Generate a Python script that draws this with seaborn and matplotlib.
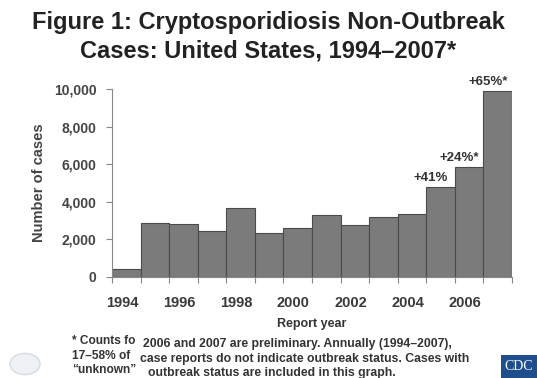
import matplotlib
matplotlib.use("Agg")
import matplotlib.pyplot as plt
import seaborn as sns
import pandas as pd
from matplotlib.ticker import FuncFormatter, FixedLocator
from matplotlib.patches import Rectangle, Circle

years = [1994, 1995, 1996, 1997, 1998, 1999, 2000, 2001, 2002, 2003, 2004, 2005, 2006, 2007]
cases = [420, 2880, 2795, 2453, 3680, 2347, 2613, 3307, 2757, 3200, 3327, 4768, 5867, 9904]
tick_years = ["1994", "1996", "1998", "2000", "2002", "2004", "2006"]
annot_years = [2005, 2006, 2007]
annot_text = ["+41%", "+24%*", "+65%*"]
yticks = [0, 2000, 4000, 6000, 8000, 10000]

sns.set_theme(style="white")
plt.rcParams['font.family'] = ['Liberation Sans', 'DejaVu Sans']

df = pd.DataFrame({"year": [str(y) for y in years], "cases": cases})

fig = plt.figure(figsize=(5.37, 3.78), dpi=100)
ax = fig.add_axes([112/537, 1-276.7/378, 400/537, (276.7-89)/378])

sns.barplot(data=df, x="year", y="cases", ax=ax, width=1.0, color="#7b7b7b",
            saturation=1, edgecolor="#4a4a4a", linewidth=0.8)

ax.set_xlim(-0.5, len(years) - 0.5)
ax.set_ylim(0, 10000)
ax.set_yticks(yticks)
ax.yaxis.set_major_formatter(FuncFormatter(lambda v, p: f"{int(v):,}"))

# boundaries as tick marks, labels at even-year centers
ax.xaxis.set_major_locator(FixedLocator([i - 0.5 for i in range(len(years) + 1)]))
ax.xaxis.set_major_formatter(FuncFormatter(lambda v, p: ""))
label_pos = [years.index(int(t)) - 0.15 for t in tick_years]
ax.xaxis.set_minor_locator(FixedLocator(label_pos))
ax.set_xticklabels(tick_years, minor=True)
ax.tick_params(axis="x", which="major", length=4, color="#888888", width=0.8, direction="out", bottom=True)
ax.tick_params(axis="x", which="minor", length=0, pad=14, labelsize=10.5, labelcolor="#3a3a3a")
ax.tick_params(axis="y", length=4, color="#888888", width=0.8, direction="out", left=True,
               labelsize=10, labelcolor="#444444", pad=7)
for lab in ax.get_xticklabels(minor=True) + ax.get_yticklabels():
    lab.set_fontweight("bold")

for s in ["top", "right"]:
    ax.spines[s].set_visible(False)
for s in ["left", "bottom"]:
    ax.spines[s].set_color("#888888")
    ax.spines[s].set_linewidth(0.8)

ax.set_xlabel("Report year", fontsize=9, fontweight="bold", color="#333333", labelpad=6)
ax.set_ylabel("Number of cases", fontsize=10.5, fontweight="bold", color="#444444", labelpad=6)

for yr, txt in zip(annot_years, annot_text):
    i = years.index(yr)
    ax.annotate(txt, xy=(i - 0.35, cases[i]), xytext=(0, 2), textcoords="offset points",
                ha="center", va="bottom", fontsize=9.5, fontweight="bold", color="#333333",
                annotation_clip=False)

fig.text(0.5, 1 - 23/378, "Figure 1: Cryptosporidiosis Non-Outbreak", ha="center", va="center",
         fontsize=17, fontweight="bold", color="#222222")
fig.text(0.5, 1 - 51/378, "Cases: United States, 1994\u20132007*", ha="center", va="center",
         fontsize=17, fontweight="bold", color="#222222")

foot_left = ["* Counts fo", "17\u201358% of", "\u201cunknown\u201d"]
foot_right = ["2006 and 2007 are preliminary. Annually (1994\u20132007),",
              "case reports do not indicate outbreak status. Cases with",
              "outbreak status are included in this graph."]
foot_right_x = [143, 140, 148]
foot_y = [341, 356, 370]
for k in range(3):
    fig.text(72/537, 1 - foot_y[k]/378, foot_left[k], ha="left", va="center",
             fontsize=8.6, fontweight="bold", color="#333333")
    fig.text(foot_right_x[k]/537, 1 - (foot_y[k] + 3)/378, foot_right[k], ha="left", va="center",
             fontsize=8.8, fontweight="bold", color="#333333")

# CDC logo box
fig.patches.append(Rectangle((501/537, 1 - 378/378), 36/537, 23/378,
                             transform=fig.transFigure, facecolor="#1f4e8c", edgecolor="none"))
fig.text(519/537, 1 - 366/378, "CDC", ha="center", va="center", fontsize=10,
         family="Liberation Serif", color="white")
# HHS emblem (faint)
fig.patches.append(Circle((25/537, 1 - 364/378), 0.028, transform=fig.transFigure,
                          facecolor="#eef1f5", edgecolor="#d5dbe3"))

fig.savefig("out.png", dpi=100)
